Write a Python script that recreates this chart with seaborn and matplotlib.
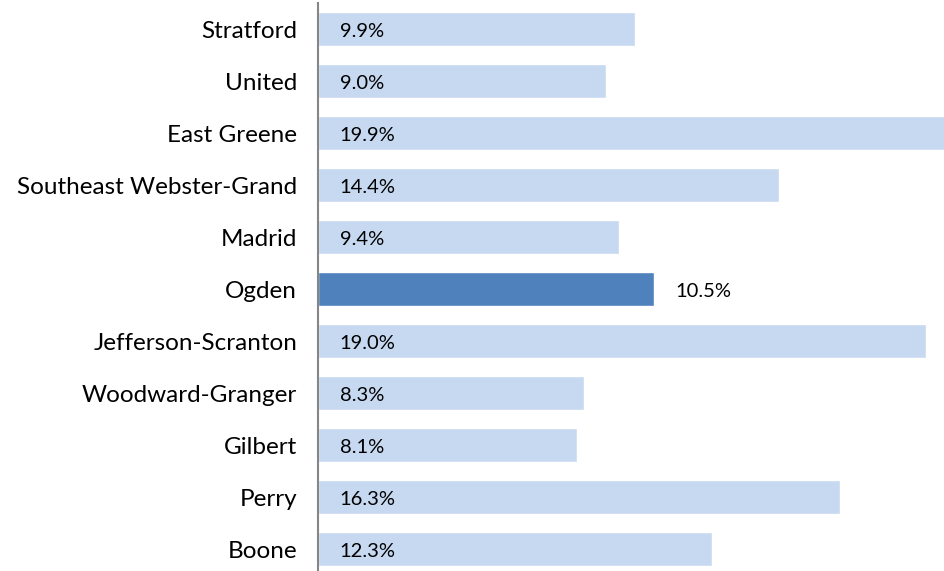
import seaborn as sns
import pandas as pd
import matplotlib.pyplot as plt

districts = ["Stratford", "United", "East Greene", "Southeast Webster-Grand", "Madrid",
             "Ogden", "Jefferson-Scranton", "Woodward-Granger", "Gilbert", "Perry", "Boone"]
rates = [9.9, 9.0, 19.9, 14.4, 9.4, 10.5, 19.0, 8.3, 8.1, 16.3, 12.3]
highlight = "Ogden"

df = pd.DataFrame({"district": districts, "rate": rates})
df["kind"] = ["hi" if d == highlight else "lo" for d in districts]

sns.set_style("white")
plt.rcParams["font.family"] = ["Lato", "DejaVu Sans"]

fig = plt.figure(figsize=(9.44, 5.71), dpi=100)
ax = fig.add_axes([318 / 944, -4 / 571, 1 - 318 / 944, 572 / 571])
sns.barplot(
    df, x="rate", y="district", hue="kind", orient="h",
    palette={"lo": "#c6d9f1", "hi": "#4f81bd"}, saturation=1,
    width=0.67, dodge=False, legend=False, ax=ax,
)
ax.set_xlim(0, 19.56)
ax.set_ylim(10.5, -0.5)

for i, (d, r) in enumerate(zip(districts, rates)):
    x = r + 0.68 if d == highlight else 0.68
    ax.text(x, i + 0.04, f"{r:.1f}%", va="center", ha="left", fontsize=14.5, color="black")

ax.set_xlabel("")
ax.set_ylabel("")
ax.set_xticks([])
ax.tick_params(axis="y", length=0, pad=15, labelsize=17.5, labelcolor="black")
for s in ["top", "right", "bottom"]:
    ax.spines[s].set_visible(False)
ax.spines["left"].set_color("#868686")
ax.spines["left"].set_linewidth(1.5)

plt.savefig("out.png", dpi=100)
